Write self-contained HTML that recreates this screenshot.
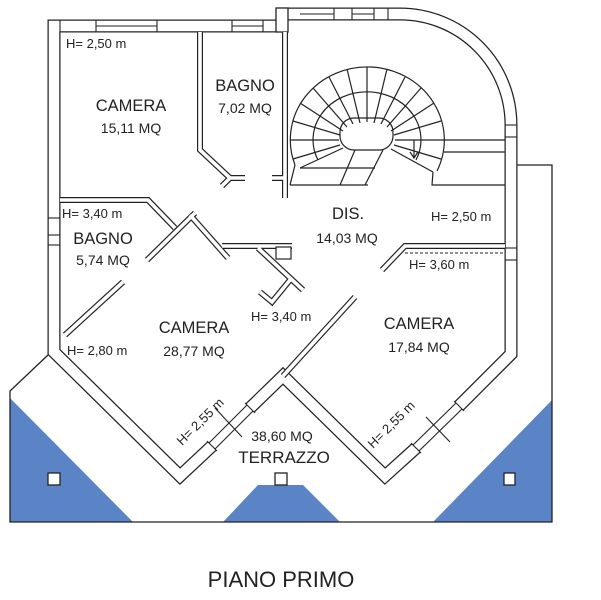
<!DOCTYPE html>
<html><head><meta charset="utf-8"><style>
html,body{margin:0;padding:0;background:#fff;}
svg{display:block;}
text{font-family:"Liberation Sans",Arial,sans-serif;fill:#222;}
</style></head><body>
<svg width="601" height="600" viewBox="0 0 601 600" xmlns="http://www.w3.org/2000/svg">
<g fill="#5a84c6">
<polygon points="10,398 10,522 133,522"/>
<polygon points="258,485 303,485 340,522 223,522"/>
<polygon points="552,400 552,522 433,522"/>
</g>
<g fill="none" stroke="#222" stroke-width="1.3">
<polyline points="48,355 10,391 10,522 552,522 552,165 517,165"/>
</g>
<g fill="#fff" stroke="#222" stroke-width="1.3">
<rect x="48" y="473" width="12" height="12"/>
<rect x="275" y="473" width="12" height="12"/>
<rect x="504" y="473" width="11" height="12"/>
</g>
<g fill="none" stroke-linejoin="miter" stroke-linecap="butt">
<path d="M282,26 L54,26 L54,352 L180,476 L212,446 M250,408 L283,376 L385,476 L416,448 M459,406 L511,354 L511,125 A111,111 0 0 0 400,14 L288,14" stroke="#222" stroke-width="13"/>
<path d="M282,26 L54,26 L54,352 L180,476 L212,446 M250,408 L283,376 L385,476 L416,448 M459,406 L511,354 L511,125 A111,111 0 0 0 400,14 L288,14" stroke="#fff" stroke-width="10.5"/>
</g>
<rect x="276" y="8" width="12" height="24" fill="#fff" stroke="#222" stroke-width="1.3"/>
<g stroke="#222" stroke-width="1.1" fill="none">
<line x1="60" y1="20" x2="60" y2="32"/><line x1="96" y1="20" x2="96" y2="32"/>
<line x1="96" y1="26" x2="157" y2="26"/><line x1="157" y1="20" x2="157" y2="32"/>
<line x1="232" y1="20" x2="232" y2="32"/><line x1="232" y1="26" x2="263" y2="26"/><line x1="263" y1="20" x2="263" y2="32"/>
<line x1="300" y1="14" x2="334" y2="14"/><line x1="334" y1="8" x2="334" y2="20"/><line x1="352" y1="8" x2="352" y2="20"/>
<line x1="352" y1="14" x2="374" y2="14"/><line x1="374" y1="8" x2="374" y2="20"/><line x1="388" y1="8" x2="388" y2="20"/>
<line x1="505" y1="125" x2="517" y2="125"/><line x1="505" y1="137" x2="517" y2="137"/>
<line x1="505" y1="248" x2="517" y2="248"/><line x1="505" y1="260" x2="517" y2="260"/>
<line x1="48" y1="218" x2="60" y2="218"/><line x1="48" y1="235" x2="60" y2="235"/><line x1="48" y1="245" x2="60" y2="245"/>
<line x1="209" y1="443" x2="247" y2="405"/><line x1="215" y1="449" x2="253" y2="411"/>
<line x1="413" y1="445" x2="456" y2="403"/><line x1="419" y1="451" x2="462" y2="409"/>
<line x1="207" y1="441" x2="217" y2="451"/><line x1="245" y1="403" x2="255" y2="413"/>
<line x1="411" y1="443" x2="421" y2="453"/><line x1="454" y1="401" x2="464" y2="411"/>
<line x1="215" y1="408" x2="242" y2="437"/><line x1="426" y1="417" x2="450" y2="442"/>
</g>
<g fill="none" stroke-linejoin="miter">
<path d="M200,32 L200,150 L230,178 M222,186 L230,178 L245,178 M285,32 L285,198 M272,178 L285,178 M60,200 L148,200 L175,228 M147,260 L195,213 M190,215 L228,258 M222,246 L292,246 M258,248 L303,290 M290,280 L272,302 L260,292 M65,335 L123,282 M505,246 L405,246 L382,270 M283,376 L355,297" stroke="#222" stroke-width="6"/>
<path d="M200,32 L200,150 L230,178 M222,186 L230,178 L245,178 M285,32 L285,198 M272,178 L285,178 M60,200 L148,200 L175,228 M147,260 L195,213 M190,215 L228,258 M222,246 L292,246 M258,248 L303,290 M290,280 L272,302 L260,292 M65,335 L123,282 M505,246 L405,246 L382,270 M283,376 L355,297" stroke="#fff" stroke-width="3.6"/>
<rect x="276" y="247" width="15" height="12" stroke="#222" stroke-width="1.2" fill="#fff"/>
<line x1="405" y1="253" x2="505" y2="253" stroke="#222" stroke-width="1" stroke-dasharray="3,2"/>
</g>
<g fill="none" stroke="#222" stroke-width="1.2">
<path d="M437,171 A77,73 0 1 0 295,165"/>
<path d="M416,160 A54,48 0 1 0 318,160"/>
<rect x="340" y="118" width="53" height="32" rx="14"/>
<line x1="395" y1="140" x2="444" y2="140"/><line x1="394" y1="135" x2="441" y2="121"/>
<line x1="391" y1="131" x2="434" y2="103"/><line x1="387" y1="127" x2="421" y2="88"/>
<line x1="381" y1="124" x2="405" y2="77"/><line x1="374" y1="123" x2="387" y2="69"/>
<line x1="367" y1="122" x2="367" y2="67"/><line x1="360" y1="123" x2="347" y2="69"/>
<line x1="353" y1="124" x2="329" y2="77"/><line x1="347" y1="127" x2="313" y2="88"/>
<line x1="343" y1="131" x2="300" y2="103"/><line x1="340" y1="135" x2="293" y2="121"/>
<line x1="339" y1="140" x2="290" y2="140"/><line x1="340" y1="145" x2="293" y2="159"/>
<line x1="394" y1="145" x2="441" y2="159"/><line x1="391" y1="149" x2="433" y2="172"/>
<line x1="295" y1="165" x2="290" y2="185"/><line x1="290" y1="185" x2="368" y2="185"/>
<line x1="300" y1="168" x2="375" y2="168"/><line x1="340" y1="185" x2="355" y2="150"/>
<line x1="365" y1="185" x2="383" y2="150"/><line x1="300" y1="168" x2="343" y2="148"/>
<line x1="444" y1="140" x2="505" y2="140"/><line x1="444" y1="152" x2="505" y2="152"/>
<polyline points="433,172 432,185 505,185"/>
<line x1="414" y1="140" x2="414" y2="157"/>
<polyline points="410,152 414,158 418,152"/>
</g>
<g font-size="13">
<text x="66" y="48">H= 2,50 m</text>
<text x="62" y="218">H= 3,40 m</text>
<text x="431" y="221">H= 2,50 m</text>
<text x="409" y="269">H= 3,60 m</text>
<text x="251" y="321">H= 3,40 m</text>
<text x="67" y="355">H= 2,80 m</text>
<text x="0" y="0" transform="translate(182,446) rotate(-45)">H= 2,55 m</text>
<text x="0" y="0" transform="translate(373,449) rotate(-45)">H= 2,55 m</text>
</g>
<g font-size="16.5" text-anchor="middle">
<text x="131" y="111">CAMERA</text>
<text x="245" y="91">BAGNO</text>
<text x="103" y="244">BAGNO</text>
<text x="348" y="219">DIS.</text>
<text x="194" y="333">CAMERA</text>
<text x="419" y="329">CAMERA</text>
</g>
<g font-size="14" text-anchor="middle">
<text x="131" y="133">15,11 MQ</text>
<text x="245" y="113">7,02 MQ</text>
<text x="103" y="265">5,74 MQ</text>
<text x="347" y="243">14,03 MQ</text>
<text x="194" y="356">28,77 MQ</text>
<text x="419" y="352">17,84 MQ</text>
<text x="282" y="441">38,60 MQ</text>
</g>
<text x="284" y="463" font-size="17" text-anchor="middle">TERRAZZO</text>
<text x="281" y="587" font-size="22" text-anchor="middle">PIANO PRIMO</text>
</svg>
</body></html>
